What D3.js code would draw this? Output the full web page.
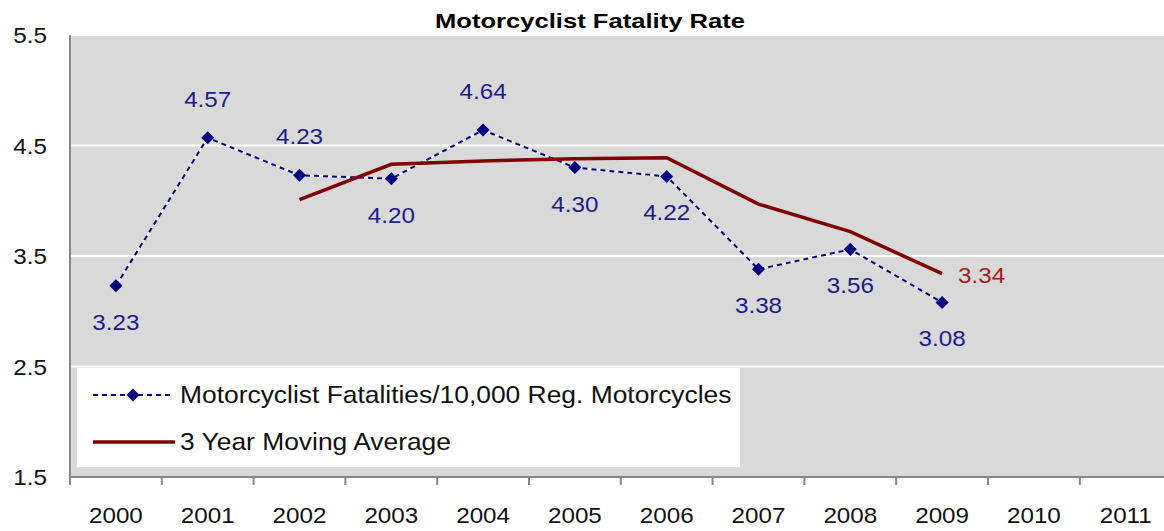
<!DOCTYPE html>
<html>
<head>
<meta charset="utf-8">
<script src="https://cdn.jsdelivr.net/npm/d3@7"></script>
<style>
  body { margin: 0; background: #fff; }
  text { font-family: "Liberation Sans", Arial, sans-serif; }
</style>
</head>
<body>
<div id="chart"></div>
<script>
(function() {
	'use strict';

	// data
	var years = ['2000', '2001', '2002', '2003', '2004', '2005', '2006', '2007', '2008', '2009', '2010', '2011'];
	var rateYears = ['2000', '2001', '2002', '2003', '2004', '2005', '2006', '2007', '2008', '2009'];
	var rateValues = [3.23, 4.57, 4.23, 4.20, 4.64, 4.30, 4.22, 3.38, 3.56, 3.08];
	var rateLabelSide = ['below', 'above', 'above', 'below', 'above', 'below', 'below', 'below', 'below', 'below'];
	var avgYears = ['2002', '2003', '2004', '2005', '2006', '2007', '2008', '2009'];
	var avgValues = [4.01, 4.33, 4.36, 4.38, 4.39, 3.97, 3.72, 3.34];
	var yTicks = [1.5, 2.5, 3.5, 4.5, 5.5];

	var W = 1164, H = 531;
	var LEFT = 70, TOP = 35, BOTTOM = 477, RIGHT = 70 + 12 * 91.8;
	var NAVY = '#000080';
	var MAROON = '#800000';
	var STRETCH = 1.1;

	var svg = d3.select('#chart').append('svg')
		.attr('width', W)
		.attr('height', H);

	var x = d3.scaleBand().domain(years).range([LEFT, RIGHT]).padding(0);
	var y = d3.scaleLinear().domain([1.5, 5.5]).range([BOTTOM, TOP]);
	var cx = function(yr) { return x(yr) + x.bandwidth() / 2; };

	// text helper: the reference font is a bit wider than Liberation Sans
	function label(parent, str, px, py, size, anchor, fill, k) {
		return parent.append('text')
			.attr('transform', 'translate(' + px + ',' + py + ') scale(' + (k || STRETCH) + ',1)')
			.attr('text-anchor', anchor)
			.attr('font-size', size + 'px')
			.attr('fill', fill)
			.text(str);
	}

	// plot background
	svg.append('rect')
		.attr('x', LEFT).attr('y', TOP)
		.attr('width', RIGHT - LEFT).attr('height', BOTTOM - TOP)
		.attr('fill', '#d9d9d9');

	// gridlines
	svg.append('g').selectAll('line')
		.data(yTicks.slice(1))
		.join('line')
		.attr('x1', LEFT).attr('x2', RIGHT)
		.attr('y1', function(d) { return y(d); })
		.attr('y2', function(d) { return y(d); })
		.attr('stroke', '#fff')
		.attr('stroke-width', 2);

	// y axis labels
	var yAxis = svg.append('g');
	yTicks.forEach(function(t) {
		label(yAxis, d3.format('.1f')(t), 47, y(t) + 8, 22, 'end', '#111');
	});
	yAxis.append('line')
		.attr('x1', LEFT).attr('x2', LEFT)
		.attr('y1', TOP).attr('y2', BOTTOM + 1)
		.attr('stroke', '#888').attr('stroke-width', 2);

	// x axis: ticks sit between categories
	var xAxis = svg.append('g');
	xAxis.append('line')
		.attr('x1', LEFT).attr('x2', RIGHT)
		.attr('y1', BOTTOM).attr('y2', BOTTOM)
		.attr('stroke', '#888').attr('stroke-width', 2);
	xAxis.selectAll('line.tick')
		.data(years)
		.join('line')
		.attr('class', 'tick')
		.attr('x1', function(d) { return x(d); })
		.attr('x2', function(d) { return x(d); })
		.attr('y1', BOTTOM).attr('y2', BOTTOM + 8)
		.attr('stroke', '#888').attr('stroke-width', 2);
	years.forEach(function(yr) {
		label(xAxis, yr, cx(yr), 523, 22, 'middle', '#111');
	});

	// title
	label(svg, 'Motorcyclist Fatality Rate', 590, 28, 21, 'middle', '#000', 1.22)
		.attr('font-weight', 'bold');

	// rate series (dashed navy over white)
	var ratePts = rateYears.map(function(yr, i) { return [cx(yr), y(rateValues[i])]; });
	var line = d3.line();
	svg.append('path')
		.attr('d', line(ratePts))
		.attr('fill', 'none')
		.attr('stroke', '#fff')
		.attr('stroke-width', 1.5);
	svg.append('path')
		.attr('d', line(ratePts))
		.attr('fill', 'none')
		.attr('stroke', NAVY)
		.attr('stroke-width', 2)
		.attr('stroke-dasharray', '5,4');

	// moving average
	var avgPts = avgYears.map(function(yr, i) { return [cx(yr), y(avgValues[i])]; });
	svg.append('path')
		.attr('d', line(avgPts))
		.attr('fill', 'none')
		.attr('stroke', MAROON)
		.attr('stroke-width', 3.5);

	// diamonds
	var diamond = d3.symbol().type(d3.symbolSquare).size(85);
	svg.append('g').selectAll('path')
		.data(ratePts)
		.join('path')
		.attr('d', diamond)
		.attr('transform', function(d) { return 'translate(' + d[0] + ',' + d[1] + ') rotate(45)'; })
		.attr('fill', NAVY);

	// data labels
	var labels = svg.append('g');
	rateValues.forEach(function(v, i) {
		var p = ratePts[i];
		var dy = rateLabelSide[i] === 'above' ? -39 : 36;
		label(labels, d3.format('.2f')(v), p[0], p[1] + dy + 8, 22, 'middle', '#1c1c8c');
	});
	var lastAvg = avgPts[avgPts.length - 1];
	label(labels, d3.format('.2f')(avgValues[avgValues.length - 1]), lastAvg[0] + 16, lastAvg[1] + 9, 22, 'start', '#a52020');

	// legend
	var legend = svg.append('g');
	legend.append('rect')
		.attr('x', 77).attr('y', 368)
		.attr('width', 663).attr('height', 99)
		.attr('fill', '#fff');
	legend.append('line')
		.attr('x1', 93).attr('x2', 172)
		.attr('y1', 395).attr('y2', 395)
		.attr('stroke', NAVY).attr('stroke-width', 2)
		.attr('stroke-dasharray', '5,4');
	legend.append('path')
		.attr('d', diamond)
		.attr('transform', 'translate(133,395) rotate(45)')
		.attr('fill', NAVY);
	label(legend, 'Motorcyclist Fatalities/10,000 Reg. Motorcycles', 180, 403, 24, 'start', '#111');
	legend.append('line')
		.attr('x1', 93).attr('x2', 175)
		.attr('y1', 442).attr('y2', 442)
		.attr('stroke', MAROON).attr('stroke-width', 3.5);
	label(legend, '3 Year Moving Average', 180, 450, 24, 'start', '#111');
}());
</script>
</body>
</html>
